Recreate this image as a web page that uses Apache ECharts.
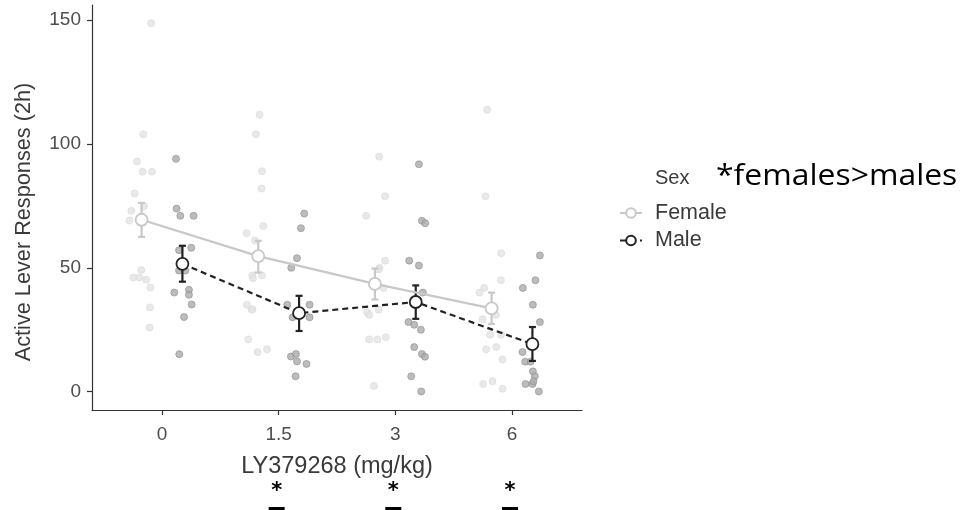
<!DOCTYPE html>
<html>
<head>
<meta charset="utf-8">
<script src="https://cdn.jsdelivr.net/npm/echarts@6/dist/echarts.min.js"></script>
<style>html,body{margin:0;padding:0;background:#fff}#c{width:963px;height:510px}</style>
</head>
<body>
<div id="c"></div>
<script>
// ---- data ----
var doseLabels = ['0', '1.5', '3', '6'];
var sexNames = ['Female', 'Male'];
var yTicks = [0, 50, 100, 150];

// jittered individual points: [x position (category index + dodge + jitter), value]
var femaleX = [
  0.906,0.840,0.786,0.834,0.914,0.765,0.846,0.737,0.722,0.823,0.754,0.805,0.865,0.900,0.897,0.894,
  1.836,1.805,1.857,1.853,1.868,1.725,1.797,1.774,1.780,1.857,1.728,1.768,1.776,1.740,1.819,1.900,
  2.862,2.913,2.750,2.913,2.865,2.856,2.899,2.757,2.776,2.856,2.776,2.847,2.919,2.817,
  3.787,3.773,3.907,3.905,3.721,3.762,3.747,3.862,3.813,3.907,3.779,3.865,3.919,3.753,3.833,3.919
];
var femaleY = [
  148.7,103.9,92.9,88.8,88.8,80,74.9,73,69.1,49.1,46.1,46.1,45.2,42.1,34,25.9,
  111.8,103.9,89,82,66.9,64,61,46.9,45.8,46.9,35.1,33.2,33.2,21.1,16,17.1,
  94.9,78.9,71,52.9,50,49.3,41.9,32.1,31,33.1,21.1,21.1,22,2.3,
  113.8,78.9,55.9,45,40,41.9,29.2,31,23,23,17.1,18,13,3.1,4.2,1.2
];
var maleX = [
  1.120,1.125,1.157,1.271,1.146,1.251,1.146,1.200,1.105,1.231,1.231,1.254,1.189,1.148,
  2.219,2.191,2.157,2.108,2.265,2.074,2.119,2.265,2.105,2.148,2.157,2.239,2.145,
  3.202,3.228,3.256,3.119,3.202,3.236,3.113,3.162,3.219,3.162,3.228,3.254,3.136,3.222,
  4.239,4.201,4.093,4.179,4.239,4.090,4.113,4.159,4.179,4.196,4.116,4.176,4.184,4.230
];
var maleY = [
  94,73.9,71,71,57.1,58.1,48.9,48.9,40,41.1,39.1,35.2,30.1,15.1,
  71.9,66,53.9,50,35.1,35.1,30,30,14.2,15.2,12.2,11.2,6.2,
  91.8,69,68,52.9,50.9,40,28.1,27,25,18,15.2,14.1,6.2,0.1,
  55,45,41.9,35.1,28.1,16,12.1,12.1,8.2,6.2,3.1,3.1,4.2,0.1
];

// group means and error-bar bounds
var femaleMean = [69.4, 54.7, 43.5, 33.6];
var femaleLow  = [62.5, 48.1, 37.2, 27.3];
var femaleHigh = [76.2, 60.9, 49.7, 40.0];
var maleMean = [51.6, 31.7, 36.2, 19.2];
var maleLow  = [44.4, 24.5, 29.4, 12.4];
var maleHigh = [58.9, 38.7, 42.9, 26.1];
var dodge = 0.175;

// significance markers per dose (index of dose)
var sigDoses = [1, 2, 3];

// ---- build ----
function pts(xs, ys) { return xs.map(function (x, i) { return [x, ys[i]]; }); }
function meanPts(m, off) { return m.map(function (v, i) { return [i + 1 + off, v]; }); }
function errPts(lo, hi, off) { return lo.map(function (v, i) { return [i + 1 + off, v, hi[i]]; }); }

var femaleCol = '#c8c8c8', maleCol = '#222222';
var FONT = 'Liberation Sans';

function errSeries(name, data, color) {
  return {
    type: 'custom', name: name + 'err', z: 4, silent: true,
    data: data,
    renderItem: function (params, api) {
      var x = api.value(0);
      var p1 = api.coord([x, api.value(1)]);
      var p2 = api.coord([x, api.value(2)]);
      var w = 3.5;
      var st = { stroke: color, lineWidth: 2.2, fill: null };
      return { type: 'group', children: [
        { type: 'line', shape: { x1: p1[0], y1: p1[1], x2: p2[0], y2: p2[1] }, style: st },
        { type: 'line', shape: { x1: p1[0] - w, y1: p1[1], x2: p1[0] + w, y2: p1[1] }, style: st },
        { type: 'line', shape: { x1: p2[0] - w, y1: p2[1], x2: p2[0] + w, y2: p2[1] }, style: st }
      ]};
    }
  };
}

var chart = echarts.init(document.getElementById('c'), null, { renderer: 'canvas' });
var option = {
  backgroundColor: '#ffffff',
  animation: false,
  grid: { left: 92, top: 5, right: 381, bottom: 100, containLabel: false },
  xAxis: {
    type: 'value', min: 0.4, max: 4.6,
    name: 'LY379268 (mg/kg)', nameLocation: 'middle', nameGap: 45,
    nameTextStyle: { fontFamily: FONT, fontSize: 23.5, color: '#3a3a3a' },
    splitLine: { show: false },
    axisLine: { show: true, onZero: false, lineStyle: { color: '#333', width: 1.2 } },
    axisTick: { show: true, length: 5, customValues: [1, 2, 3, 4], lineStyle: { color: '#333', width: 1.2 } },
    axisLabel: { customValues: [1, 2, 3, 4], margin: 15, fontFamily: FONT, fontSize: 19, color: '#4d4d4d',
      formatter: function (v) { return doseLabels[Math.round(v) - 1]; } }
  },
  yAxis: {
    type: 'value', min: -7.4, max: 156.1,
    splitLine: { show: false },
    axisLine: { show: true, onZero: false, lineStyle: { color: '#333', width: 1.2 } },
    axisTick: { show: true, length: 5, customValues: yTicks, lineStyle: { color: '#333', width: 1.2 } },
    axisLabel: { customValues: yTicks, margin: 11, fontFamily: FONT, fontSize: 19, color: '#4d4d4d' }
  },
  legend: {
    orient: 'vertical', left: 619, top: 202, padding: 0, itemWidth: 22, itemHeight: 12, itemGap: 5.5,
    data: sexNames,
    textStyle: { fontFamily: FONT, fontSize: 21.5, color: '#3a3a3a', padding: [0, 0, 0, 8] }
  },
  series: [
    { type: 'scatter', name: 'fpts', data: pts(femaleX, femaleY), symbolSize: 7, z: 1, silent: true,
      itemStyle: { color: '#e4e4e4', borderColor: '#d9d9d9', borderWidth: 0.8 } },
    { type: 'scatter', name: 'mpts', data: pts(maleX, maleY), symbolSize: 7, z: 2, silent: true,
      itemStyle: { color: '#ababab', borderColor: '#8e8e8e', borderWidth: 0.8 } },
    errSeries('Female', errPts(femaleLow, femaleHigh, -dodge), femaleCol),
    errSeries('Male', errPts(maleLow, maleHigh, dodge), maleCol),
    { type: 'line', name: 'Female', data: meanPts(femaleMean, -dodge), z: 5,
      symbol: 'circle', symbolSize: 12, showSymbol: true,
      lineStyle: { color: femaleCol, width: 2.2 },
      itemStyle: { color: '#ffffff', borderColor: femaleCol, borderWidth: 1.8 } },
    { type: 'line', name: 'Male', data: meanPts(maleMean, dodge), z: 5,
      symbol: 'circle', symbolSize: 12, showSymbol: true,
      lineStyle: { color: maleCol, width: 2.2, type: [6, 4] },
      itemStyle: { color: '#ffffff', borderColor: maleCol, borderWidth: 1.8 } }
  ]
};
chart.setOption(option);

var gfx = [
  { type: 'text', x: 24, y: 222, rotation: Math.PI / 2,
    style: { text: 'Active Lever Responses (2h)', fontFamily: FONT, fontSize: 21.7, fill: '#3a3a3a', align: 'center', verticalAlign: 'middle' } },
  { type: 'text', x: 655, y: 178, style: { text: 'Sex', fontFamily: FONT, fontSize: 20, fill: '#3a3a3a', verticalAlign: 'middle' } },
  { type: 'text', x: 716, y: 162, scaleX: 1.1, originX: 0, style: { text: '*females>males', fontFamily: 'Open Sans', fontSize: 29, fill: '#000' } }
];
sigDoses.forEach(function (d) {
  var px = chart.convertToPixel({ xAxisIndex: 0 }, d + 1);
  gfx.push({ type: 'text', x: px - 2, y: 481, style: { text: '*', fontFamily: 'DejaVu Sans', fontWeight: 'bold', fontSize: 21, fill: '#000', align: 'center', verticalAlign: 'top' } });
  gfx.push({ type: 'rect', shape: { x: px - 10, y: 507, width: 16, height: 4 }, style: { fill: '#000' } });
});
chart.setOption({ graphic: gfx });
</script>
</body>
</html>
